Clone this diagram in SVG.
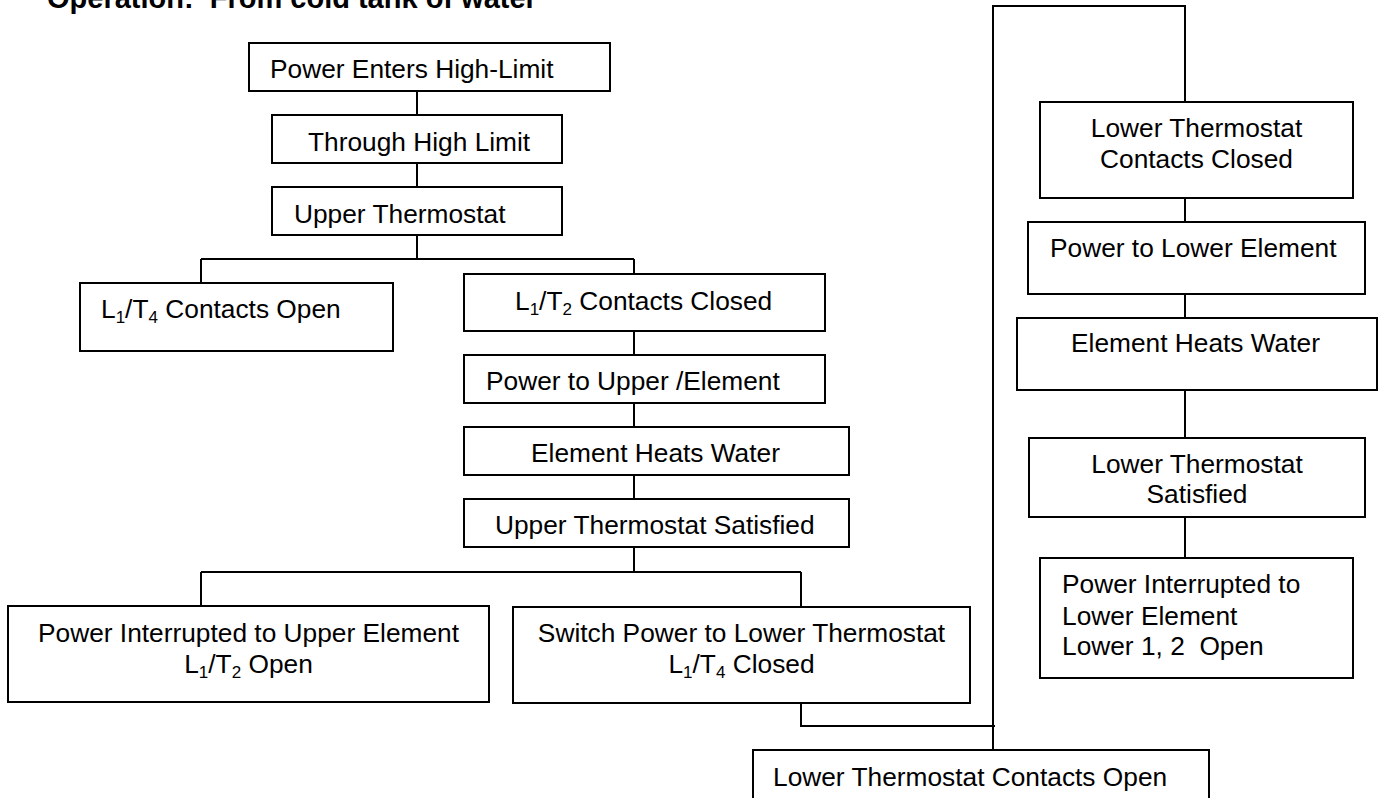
<svg xmlns="http://www.w3.org/2000/svg" width="1383" height="798" viewBox="0 0 1383 798">
<style>
  .box { fill: #ffffff; stroke: #000000; stroke-width: 2; }
  .conn { fill: none; stroke: #000000; stroke-width: 2; }
  text { font-family: "Liberation Sans", Arial, sans-serif; font-size: 26.3px; fill: #000000; }
  .c { text-anchor: middle; }
  .sub { font-size: 17px; }
  .title { font-weight: bold; font-size: 29px; }
</style>
<rect x="0" y="0" width="1383" height="798" fill="#ffffff"/>
<text class="title" x="47" y="8" xml:space="preserve">Operation:  From cold tank of water</text>

<g id="connectors">
  <path class="conn" d="M417 91 V115"/>
  <path class="conn" d="M417 163 V187"/>
  <path class="conn" d="M417 235 V259 M201 259 H634 M201 259 V283 M634 259 V274"/>
  <path class="conn" d="M634 331 V355"/>
  <path class="conn" d="M634 403 V427"/>
  <path class="conn" d="M634 475 V499"/>
  <path class="conn" d="M634 547 V572 M201 572 H801 M201 572 V606 M801 572 V607"/>
  <path class="conn" d="M801 703 V726 H995"/>
  <path class="conn" d="M993 750 V6 H1185 V102"/>
  <path class="conn" d="M1185 198 V222"/>
  <path class="conn" d="M1185 294 V318"/>
  <path class="conn" d="M1185 390 V438"/>
  <path class="conn" d="M1185 517 V558"/>
</g>

<g id="node-power-enters">
  <rect class="box" x="249" y="43" width="361" height="48"/>
  <text x="270" y="78">Power Enters High-Limit</text>
</g>
<g id="node-through-high-limit">
  <rect class="box" x="272" y="115" width="290" height="48"/>
  <text x="308" y="151">Through High Limit</text>
</g>
<g id="node-upper-thermostat">
  <rect class="box" x="272" y="187" width="290" height="48"/>
  <text x="294" y="223">Upper Thermostat</text>
</g>
<g id="node-l1t4-open">
  <rect class="box" x="80" y="283" width="313" height="68"/>
  <text x="101" y="318">L<tspan class="sub" dy="5">1</tspan><tspan dy="-5">/T</tspan><tspan class="sub" dy="5">4</tspan><tspan dy="-5"> Contacts Open</tspan></text>
</g>
<g id="node-l1t2-closed">
  <rect class="box" x="464" y="274" width="361" height="57"/>
  <text x="515" y="310">L<tspan class="sub" dy="5">1</tspan><tspan dy="-5">/T</tspan><tspan class="sub" dy="5">2</tspan><tspan dy="-5"> Contacts Closed</tspan></text>
</g>
<g id="node-power-upper">
  <rect class="box" x="464" y="355" width="361" height="48"/>
  <text x="486" y="390">Power to Upper /Element</text>
</g>
<g id="node-element-heats-upper">
  <rect class="box" x="464" y="427" width="385" height="48"/>
  <text x="531" y="462">Element Heats Water</text>
</g>
<g id="node-upper-satisfied">
  <rect class="box" x="464" y="499" width="385" height="48"/>
  <text x="495" y="534">Upper Thermostat Satisfied</text>
</g>
<g id="node-power-interrupted-upper">
  <rect class="box" x="8" y="606" width="481" height="96"/>
  <text class="c" x="248.5" y="642">Power Interrupted to Upper Element</text>
  <text class="c" x="248.5" y="673">L<tspan class="sub" dy="5">1</tspan><tspan dy="-5">/T</tspan><tspan class="sub" dy="5">2</tspan><tspan dy="-5"> Open</tspan></text>
</g>
<g id="node-switch-power">
  <rect class="box" x="513" y="607" width="457" height="96"/>
  <text class="c" x="741.5" y="642">Switch Power to Lower Thermostat</text>
  <text class="c" x="741.5" y="673">L<tspan class="sub" dy="5">1</tspan><tspan dy="-5">/T</tspan><tspan class="sub" dy="5">4</tspan><tspan dy="-5"> Closed</tspan></text>
</g>
<g id="node-lower-contacts-open">
  <rect class="box" x="753" y="750" width="456" height="52"/>
  <text x="773" y="786">Lower Thermostat Contacts Open</text>
</g>
<g id="node-lower-contacts-closed">
  <rect class="box" x="1040" y="102" width="313" height="96"/>
  <text class="c" x="1196.5" y="137">Lower Thermostat</text>
  <text class="c" x="1196.5" y="168">Contacts Closed</text>
</g>
<g id="node-power-lower">
  <rect class="box" x="1028" y="222" width="337" height="72"/>
  <text x="1050" y="257">Power to Lower Element</text>
</g>
<g id="node-element-heats-lower">
  <rect class="box" x="1017" y="318" width="360" height="72"/>
  <text x="1071" y="352">Element Heats Water</text>
</g>
<g id="node-lower-satisfied">
  <rect class="box" x="1029" y="438" width="336" height="79"/>
  <text class="c" x="1197" y="473">Lower Thermostat</text>
  <text class="c" x="1197" y="503">Satisfied</text>
</g>
<g id="node-power-interrupted-lower">
  <rect class="box" x="1040" y="558" width="313" height="120"/>
  <text x="1062" y="593">Power Interrupted to</text>
  <text x="1062" y="625">Lower Element</text>
  <text x="1062" y="655" xml:space="preserve">Lower 1, 2  Open</text>
</g>
</svg>
